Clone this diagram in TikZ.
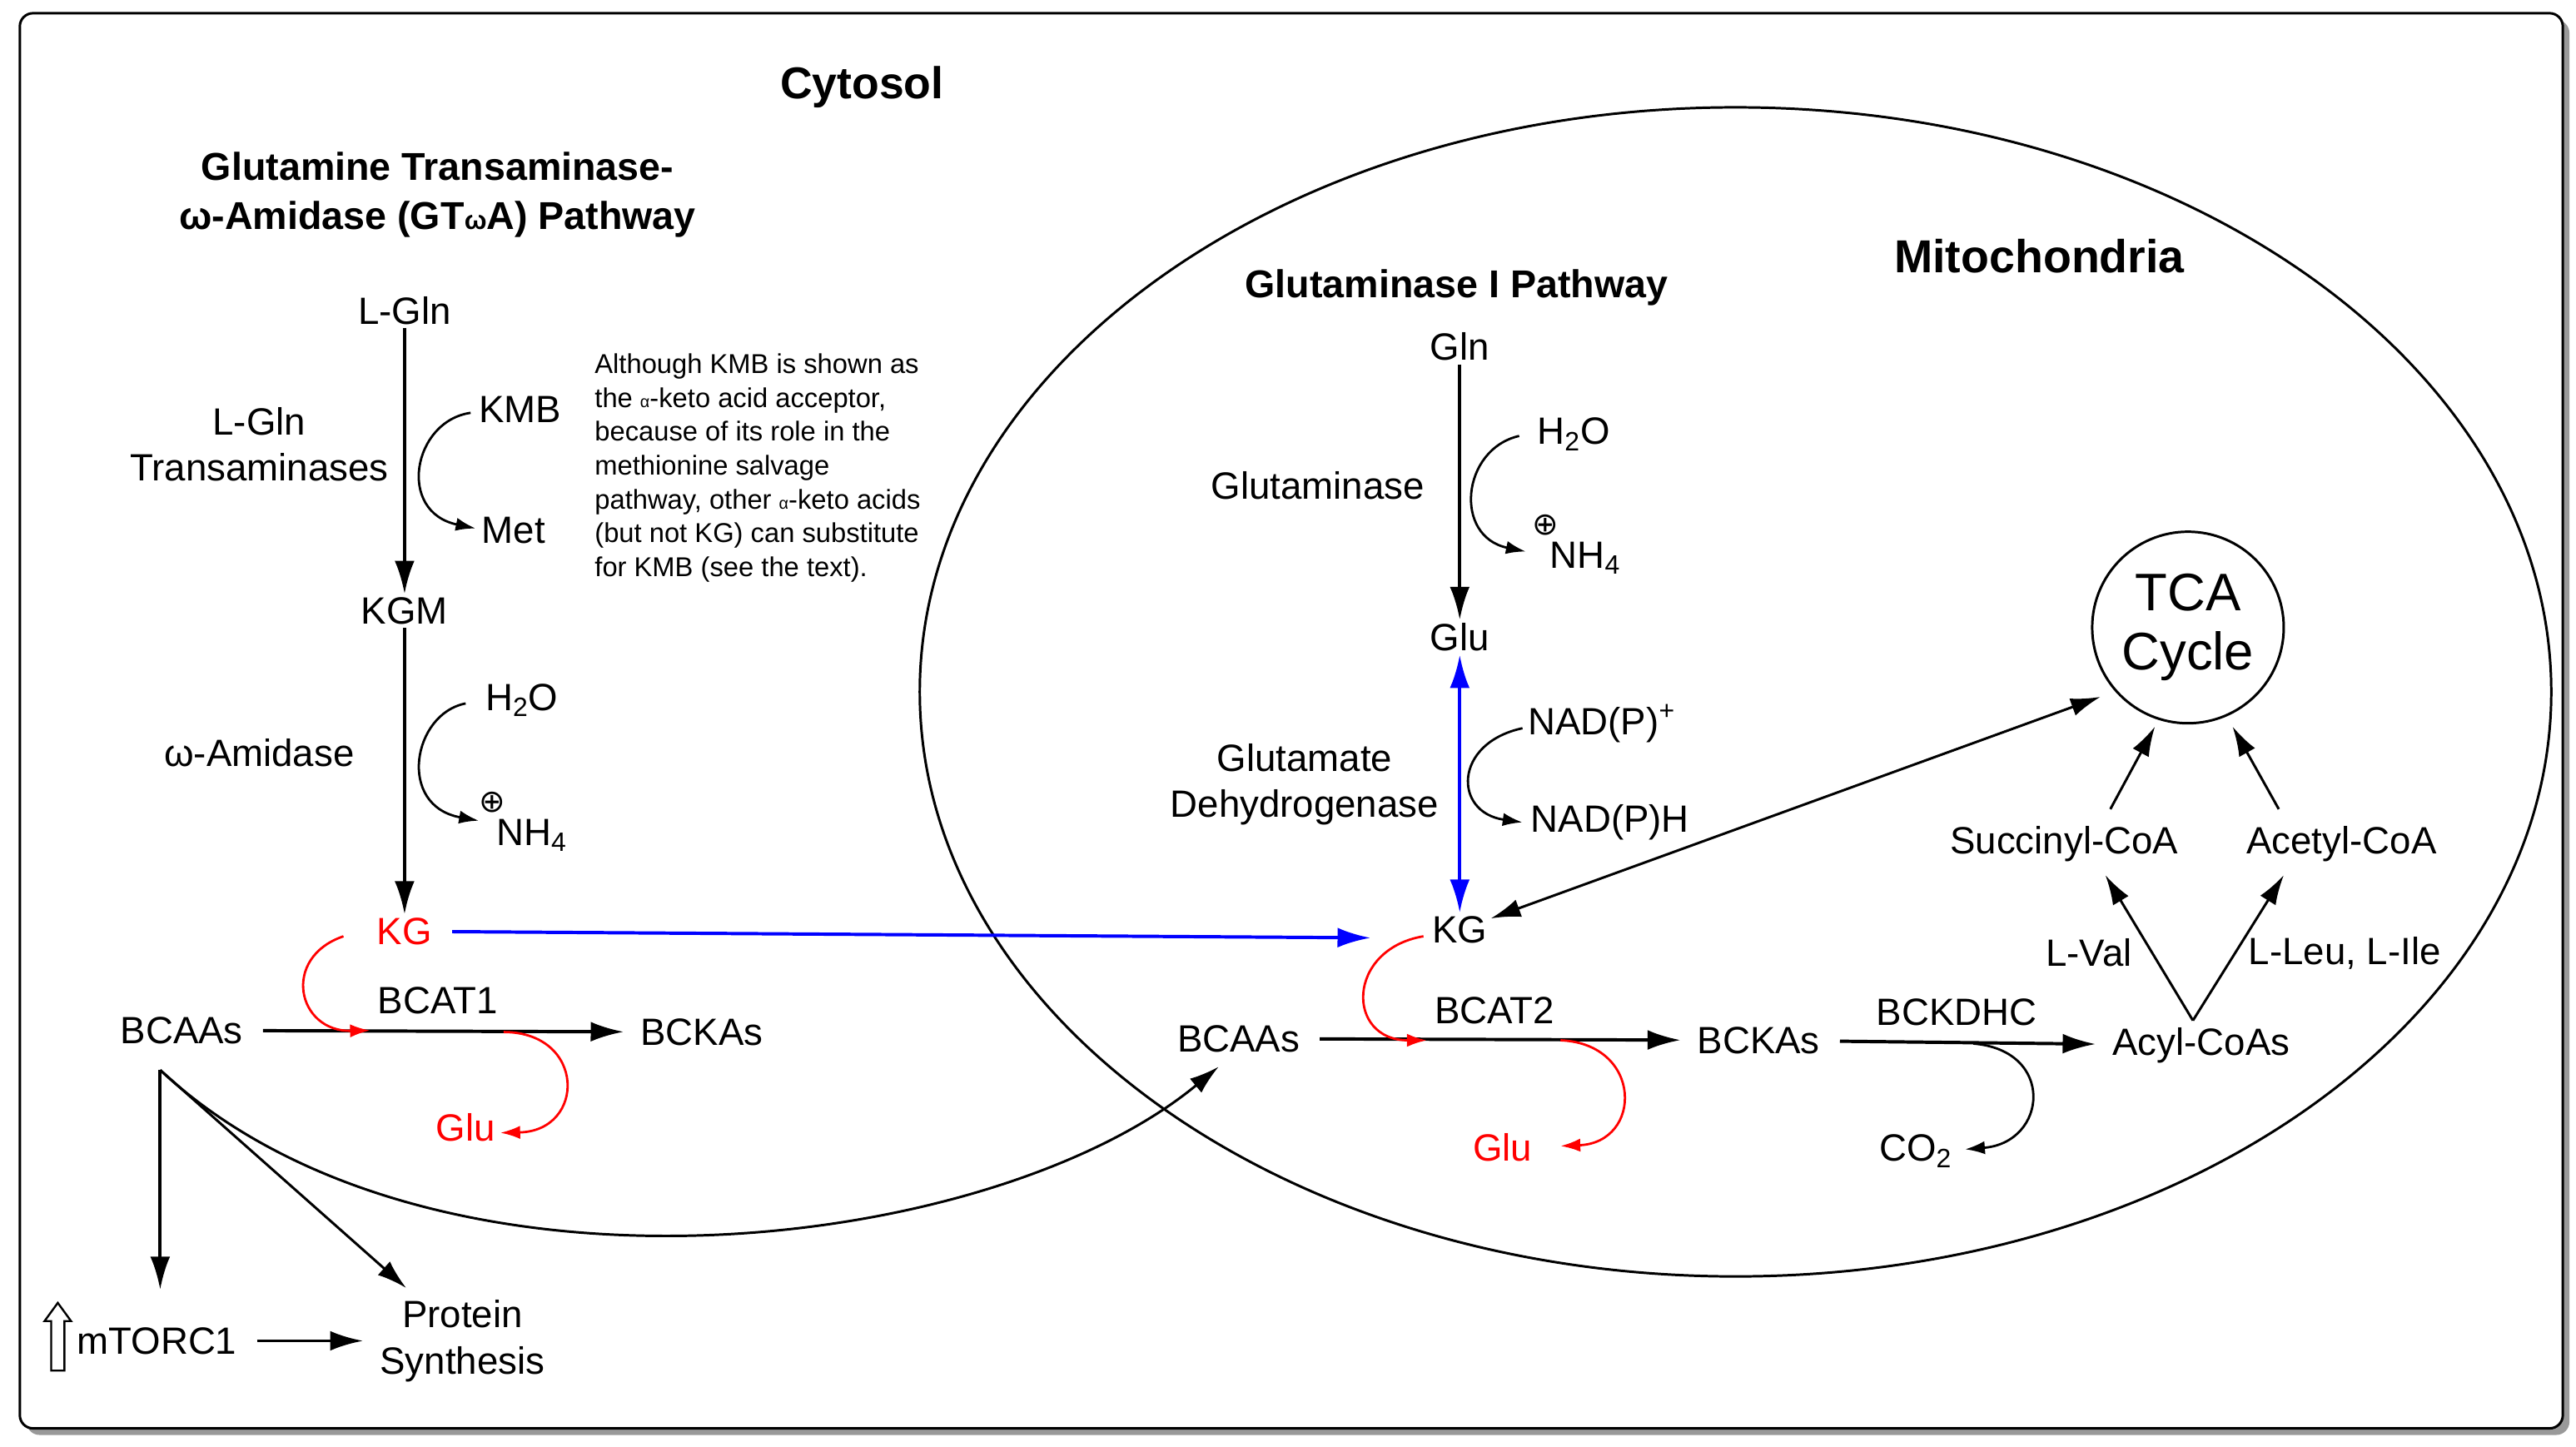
\documentclass[tikz,border=0pt]{standalone}
\usepackage{fontspec}
\setmainfont{Liberation Sans}
\newfontfamily\djv{DejaVu Sans}
\usetikzlibrary{arrows.meta}
\newcommand{\ga}{{\fontsize{10}{10}\selectfont α}}
\newcommand{\cplus}{{\djv ⊕}}
\begin{document}
\begin{tikzpicture}[x=1pt,y=-1pt,
  t/.style={inner sep=2pt,font=\fontsize{23}{28}\selectfont,align=center},
  b/.style={inner sep=1pt,font=\bfseries\fontsize{27}{30}\selectfont,align=center},
  a/.style={-{Latex[length=20pt,width=12pt]},line width=2pt},
  gap/.style={shorten <=10pt,shorten >=8pt},
  th/.style={-{Latex[length=18pt,width=11pt]},line width=1.5pt},
  r/.style={red,t},
  rc/.style={red,-{Latex[length=12pt,width=8pt]},line width=1.4pt},
  cc/.style={-{Latex[length=12pt,width=8pt]},line width=1.4pt},
  cp/.style={inner sep=0pt,font=\fontsize{19}{19}\selectfont},
  bl/.style={blue,line width=2pt}]
\useasboundingbox (0,0) rectangle (1560,876);
\fill[gray!80,rounded corners=8pt] (16,12) rectangle (1556,869);
\draw[line width=1.5pt,fill=white,rounded corners=8pt] (12,8) rectangle (1552,865);
\draw[line width=1.5pt] (1051,419) ellipse [x radius=494, y radius=354];
\node[b] at (522,53) {Cytosol};
\node[b,font=\bfseries\fontsize{23.5}{30}\selectfont] at (265,118) {Glutamine Transaminase-\\ω-Amidase (GT{\fontsize{16}{16}\selectfont ω}A) Pathway};
\node[b,font=\bfseries\fontsize{28}{30}\selectfont] at (1235,155) {Mitochondria};
\node[b,font=\bfseries\fontsize{23.5}{24}\selectfont] at (882,174) {Glutaminase I Pathway};
% left pathway
\node[t] (lgln) at (245,188) {L-Gln};
\node[t] (kgm) at (245,370) {KGM};
\node[t] (kmb) at (315,248) {KMB};
\node[t] (met) at (311,321) {Met};
\node[t] at (157,269) {L-Gln\\Transaminases};
\draw[a] (lgln) -- (kgm);
\coordinate (k1) at (285,250); \coordinate (m1) at (288,320);
\draw[cc] (k1) .. controls (250,255) and (240,310) .. (m1);
\node[t] (h2o1) at (316,424) {H\textsubscript{2}O};
\node[t] (nh1) at (322,506) {NH\textsubscript{4}};
\node[cp] at (298,486) {\cplus};
\node[t] at (157,456) {ω-Amidase};
\node[r] (kg1) at (245,564) {KG};
\draw[a] (kgm) -- (kg1);
\coordinate (h1) at (282,426); \coordinate (n1) at (290,497);
\draw[cc] (h1) .. controls (250,432) and (240,488) .. (n1);
\node[t] (bcaa1) at (110,624) {BCAAs};
\node[t] (bcka1) at (425,625) {BCKAs};
\node[t] at (265,606) {BCAT1};
\draw[a,gap] (bcaa1) -- (bcka1);
\node[r] (glu1) at (282,683) {Glu};
\draw[rc] (208,567) .. controls (170,580) and (180,625) .. (224,624);
\draw[rc] (305,625) .. controls (355,625) and (355,685) .. (303,686);
\node[t] (mtor) at (95,812) {mTORC1};
\node[t] (prot) at (280,812) {Protein\\Synthesis};
\coordinate (bs) at (97,648);
\coordinate (me) at (97,781);
\draw[a] (bs) -- (me);
\draw[th] (bs) -- (246,780);
\draw[th] (bs) .. controls (260,800) and (600,760) .. (738,646);
\draw[a,gap] (mtor) -- (prot);
\draw[line width=1.2pt,fill=white] (31,830) -- (31,800) -- (27,800) -- (35,789) -- (43,800) -- (39,800) -- (39,830) -- cycle;
\node[inner sep=0pt,font=\fontsize{16.5}{20.5}\selectfont,align=left,anchor=north west] at (360,214) {Although KMB is shown as\\the \ga-keto acid acceptor,\\because of its role in the\\methionine salvage\\pathway, other \ga-keto acids\\(but not KG) can substitute\\for KMB (see the text).};
\draw[bl,gap,-{Latex[length=20pt,width=12pt]}] (kg1) -- (838,568);
% mitochondria
\node[t] (gln) at (884,210) {Gln};
\node[t] (glu) at (884,386) {Glu};
\draw[a] (gln) -- (glu);
\node[t] at (953,263) {H\textsubscript{2}O};
\node[t] at (960,338) {NH\textsubscript{4}};
\node[cp] at (936,318) {\cplus};
\draw[cc] (920,264) .. controls (885,272) and (880,325) .. (924,334);
\node[t] at (798,294) {Glutaminase};
\node[t] (kg2) at (884,563) {KG};
\draw[bl,{Latex[length=20pt,width=12pt]}-{Latex[length=20pt,width=12pt]}] (glu) -- (kg2);
\node[t] at (970,438) {NAD(P)\textsuperscript{+}};
\node[t] at (975,498) {NAD(P)H};
\draw[cc] (922,441) .. controls (880,450) and (880,492) .. (922,498);
\node[t] at (790,475) {Glutamate\\Dehydrogenase};
\node[circle,draw,line width=1.5pt,minimum size=116pt,inner sep=0pt,font=\fontsize{32}{36}\selectfont,align=center] (tca) at (1325,380) {TCA\\Cycle};
\coordinate (tk) at (1272,422);
\draw[th,{Latex[length=18pt,width=11pt]}-{Latex[length=18pt,width=11pt]}] (kg2) -- (tk);
\node[t] (suc) at (1250,511) {Succinyl-CoA};
\node[t] (ace) at (1418,511) {Acetyl-CoA};
\draw[th] (1278,490) -- (1305,440);
\draw[th] (1380,490) -- (1352,440);
\node[t] (acyl) at (1333,633) {Acyl-CoAs};
\draw[th] (1328,618) -- (1275,530);
\draw[th] (1328,618) -- (1383,530);
\node[t] at (1265,577) {L-Val};
\node[t] at (1420,577) {L-Leu, L-Ile};
\node[t] (bcaa2) at (750,629) {BCAAs};
\node[t] (bcka2) at (1065,630) {BCKAs};
\node[t] at (905,612) {BCAT2};
\draw[a,gap] (bcaa2) -- (bcka2);
\draw[a,gap] (bcka2) -- (acyl);
\node[t] at (1185,613) {BCKDHC};
\node[t] (co2) at (1160,697) {CO\textsubscript{2}};
\draw[cc] (1195,632) .. controls (1245,636) and (1240,692) .. (1190,696);
\node[r] (glu2) at (910,695) {Glu};
\draw[rc] (862,567) .. controls (815,575) and (815,630) .. (864,630);
\draw[rc] (945,630) .. controls (995,632) and (995,692) .. (945,694);
\end{tikzpicture}
\end{document}
